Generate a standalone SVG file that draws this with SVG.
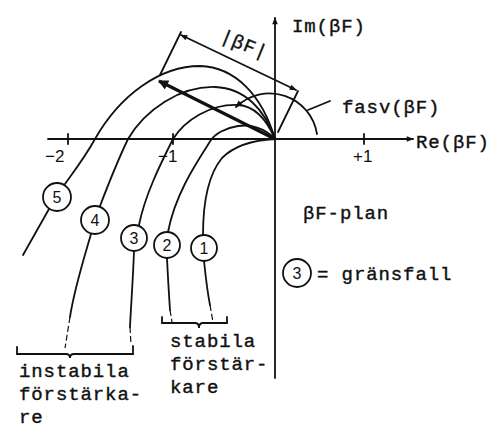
<svg xmlns="http://www.w3.org/2000/svg" width="500" height="446" viewBox="0 0 500 446">
<defs>
<marker id="ah" viewBox="0 0 10 10" refX="9" refY="5" markerWidth="9" markerHeight="7" markerUnits="userSpaceOnUse" orient="auto-start-reverse"><path d="M0,1 L10,5 L0,9 Z" fill="#111"/></marker>
<marker id="ahb" viewBox="0 0 10 10" refX="9" refY="5" markerWidth="14" markerHeight="10" markerUnits="userSpaceOnUse" orient="auto"><path d="M0,0 L10,5 L0,10 Z" fill="#111"/></marker>
</defs>
<style>
.ln{fill:none;stroke:#111;stroke-width:1.8;stroke-linecap:round}
.dash{fill:none;stroke:#111;stroke-width:1.2;stroke-dasharray:6 3}
.cir{fill:#fff;stroke:#111;stroke-width:1.8}
.num{font-family:"Liberation Sans",Arial,sans-serif;font-size:16px;fill:#111;text-anchor:middle}
.tw{font-family:"Liberation Mono","Courier New",monospace;font-size:19px;fill:#111;stroke:#111;stroke-width:0.4;letter-spacing:0.9px}
.ax{font-family:"Liberation Sans",Arial,sans-serif;font-size:17px;fill:#111}
</style>
<rect width="500" height="446" fill="#fff"/>
<g id="connectors">
<path class="ln" d="M48,139 L413,139" marker-end="url(#ah)"/>
<path class="ln" d="M275,378 L275,18" marker-end="url(#ah)"/>
<path class="ln" d="M68,134 L68,144 M173,134 L173,144 M364,134 L364,144"/>
<path fill="none" stroke="#111" stroke-width="3.2" d="M275,139 L159,81" marker-end="url(#ahb)"/>
<path class="ln" d="M181,35 L296,90" marker-start="url(#ah)" marker-end="url(#ah)"/>
<path class="ln" d="M181,32 L160,75 M298,91 L278,132"/>
<path class="ln" d="M317,134 A48,48 0 0 0 236,107" marker-end="url(#ah)"/>
<path class="ln" d="M308,110 L330,101"/>
</g>
<g id="curve5">
<path class="ln" d="M275,139 C262,95 235,67 200,66 C160,66 120,95 95,139 C85,157 75,170 65,184"/>
<path class="ln" d="M49,209 L23,255"/>
<circle class="cir" cx="57" cy="197" r="14"/><text class="num" x="57" y="203">5</text>
</g>
<g id="curve4">
<path class="ln" d="M275,139 C265,110 245,88 215,87 C180,86 145,110 128,139 C118,160 108,185 100,206"/>
<path class="ln" d="M91,234 C82,265 74,290 70,317"/>
<path class="dash" d="M70,317 L65,348"/>
<circle class="cir" cx="95" cy="220" r="14"/><text class="num" x="95" y="226">4</text>
</g>
<g id="curve3">
<path class="ln" d="M275,139 C266,118 254,106 238,105 C210,104 185,120 173,139 C160,165 145,195 139,225"/>
<path class="ln" d="M134,251 C133,280 131,305 130,327"/>
<path class="dash" d="M130,327 L131,345"/>
<circle class="cir" cx="134" cy="238" r="13"/><text class="num" x="134" y="244">3</text>
</g>
<g id="curve2">
<path class="ln" d="M275,139 C265,128 250,124 238,126 C225,128 215,134 211,140 C195,165 175,195 168,232"/>
<path class="ln" d="M167,258 C168,280 169,295 170,310"/>
<path class="dash" d="M170,310 L172,322"/>
<circle class="cir" cx="167" cy="245" r="13"/><text class="num" x="167" y="251">2</text>
</g>
<g id="curve1">
<path class="ln" d="M275,139 C255,140 235,145 222,158 C208,175 203,205 203,235"/>
<path class="ln" d="M204,261 C206,280 208,295 210,305"/>
<path class="dash" d="M210,305 L213,322"/>
<circle class="cir" cx="204" cy="248" r="13"/><text class="num" x="204" y="254">1</text>
</g>
<g id="brackets">
<path class="ln" d="M17,347 L17,354 L66,354 Q70,354 70,358 Q70,354 74,354 L133,354 L133,346"/>
<path class="ln" d="M162,317 L162,323 L195,323 Q199,323 199,328 Q199,323 203,323 L227,323 L227,317"/>
</g>
<g id="labels">
<text class="ax" x="45" y="162">−2</text>
<text class="ax" x="158" y="162">−1</text>
<text class="ax" x="353" y="162">+1</text>
<text class="tw" x="292" y="32">Im(βF)</text>
<text class="tw" x="416" y="148">Re(βF)</text>
<text class="tw" x="342" y="113">fasv(βF)</text>
<text class="tw" transform="translate(242,50) rotate(22)" text-anchor="middle">|βF|</text>
<text class="tw" x="303" y="219">βF-plan</text>
<circle class="cir" cx="297" cy="273" r="14"/><text class="num" x="297" y="279">3</text>
<text class="tw" x="317" y="280">= gränsfall</text>
<text class="tw" x="19" y="377">instabila</text>
<text class="tw" x="19" y="400">förstärka-</text>
<text class="tw" x="19" y="423">re</text>
<text class="tw" x="170" y="347">stabila</text>
<text class="tw" x="170" y="370">förstär-</text>
<text class="tw" x="170" y="393">kare</text>
</g>
</svg>
